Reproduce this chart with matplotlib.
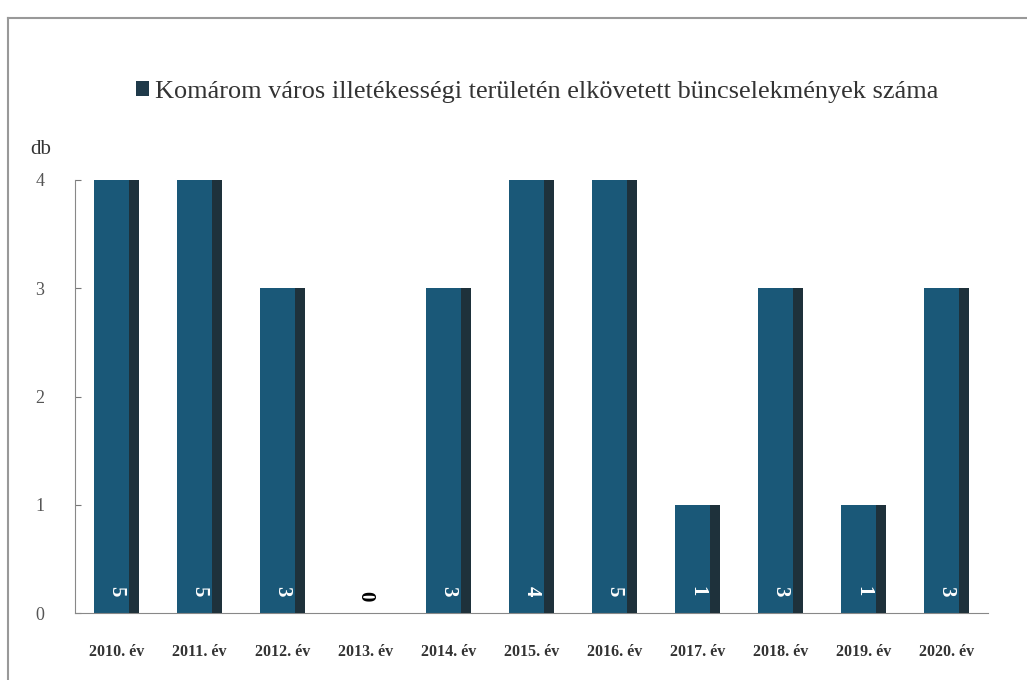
import matplotlib.pyplot as plt
from matplotlib.lines import Line2D
from matplotlib.patches import Patch

# Recorded offences per year (labels); the axis tops out at 4
years = ['2010. év', '2011. év', '2012. év', '2013. év', '2014. év', '2015. év',
         '2016. év', '2017. év', '2018. év', '2019. év', '2020. év']
counts = [5, 5, 3, 0, 3, 4, 5, 1, 3, 1, 3]
yticks = [0, 1, 2, 3, 4]
series_name = 'Komárom város illetékességi területén elkövetett büncselekmények száma'

plt.rcParams['font.family'] = ['Liberation Serif', 'DejaVu Serif']

bar_color = '#1a5878'
shade_color = '#1f2b31'

fig = plt.figure(figsize=(10.27, 6.8), dpi=100, facecolor='white')
ax = fig.add_axes([0.073, 0.0985, 0.889, 0.6368])

x = list(range(len(years)))
width = 0.55
ax.bar(x, counts, width=width, color=bar_color, zorder=2)
# darker strip on the right side of each bar
ax.bar([i + width / 2 - 0.065 for i in x], counts, width=0.13,
       color=shade_color, alpha=0.85, zorder=3)

for i, v in zip(x, counts):
    if v > 0:
        ax.text(i, 0.2, str(v), rotation=270, ha='center', va='center',
                color='white', fontsize=15, fontweight='bold', zorder=4)
    else:
        ax.text(i, 0.16, str(v), rotation=270, ha='center', va='center',
                color='black', fontsize=15, fontweight='bold', zorder=4)

ax.set_xlim(-0.5, len(years) - 0.5)
ax.set_ylim(0, 4)
ax.set_yticks(yticks)
ax.set_yticklabels([str(t) for t in yticks], fontsize=13, color='#555555')
ax.set_xticks(x)
ax.set_xticklabels(years, fontsize=11.5, fontweight='bold', color='#333333')
ax.tick_params(axis='x', length=0, pad=22)
ax.tick_params(axis='y', direction='in', length=4, color='#777777', pad=22)

for side in ['top', 'right']:
    ax.spines[side].set_visible(False)
ax.spines['left'].set_color('#888888')
ax.spines['bottom'].set_color('#888888')

fig.text(30 / 1027, 1 - 150 / 680, 'db', fontsize=15, color='#333333',
         ha='left', va='center')

handle = Patch(facecolor='#1f3a4a')
fig.legend([handle], [series_name], loc='center', bbox_to_anchor=(0.523, 1 - 92 / 680),
           frameon=False, fontsize=18.9, handlelength=0.5, handleheight=0.5,
           handletextpad=0.25, labelcolor='#333333')

# outer frame
fig.add_artist(Line2D([8 / 1027, 1.0], [1 - 18 / 680] * 2, transform=fig.transFigure,
                      color='#999999', lw=1.5))
fig.add_artist(Line2D([8 / 1027] * 2, [0.0, 1 - 18 / 680], transform=fig.transFigure,
                      color='#999999', lw=1.5))

fig.savefig('out.png', dpi=100, facecolor='white')
